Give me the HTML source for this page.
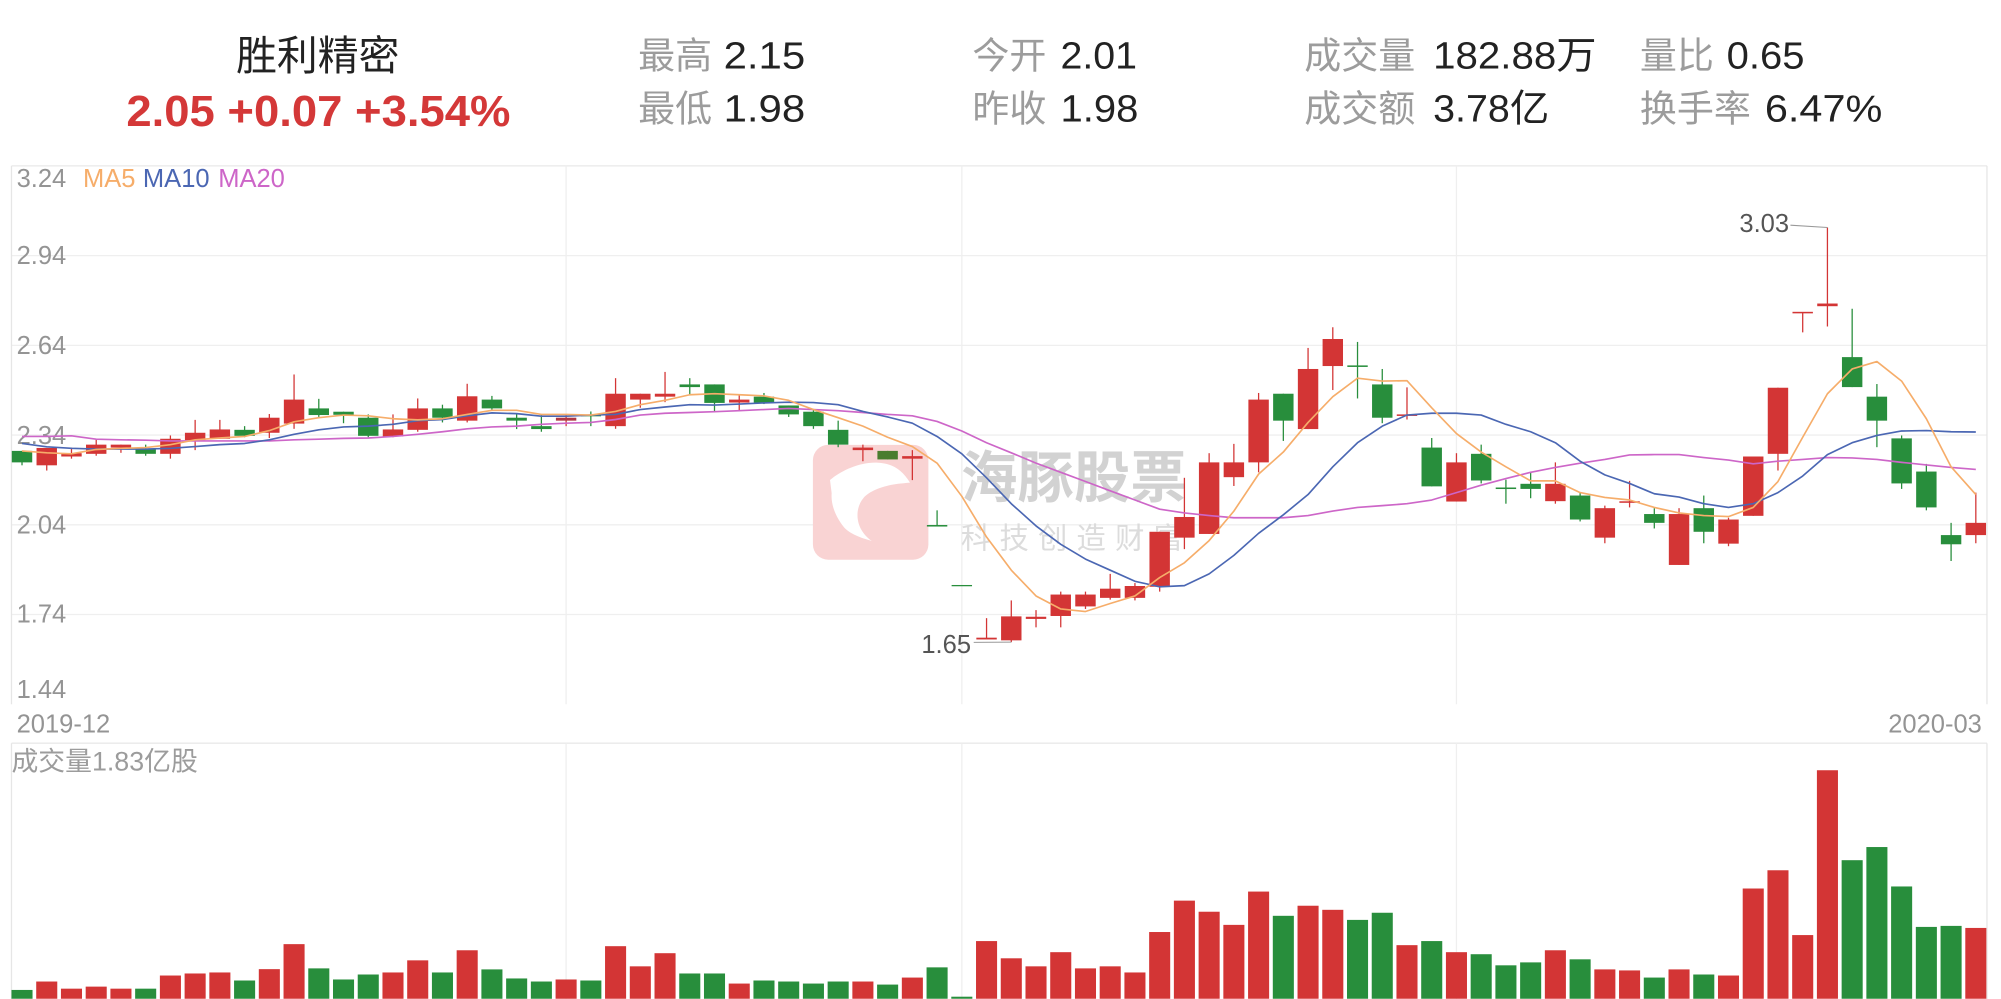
<!DOCTYPE html>
<html><head><meta charset="utf-8"><style>
html,body{margin:0;padding:0;background:#fff;}
svg{display:block;}
text{font-family:"Liberation Sans","Noto Sans CJK SC",sans-serif;}
</style></head><body>
<svg width="2001" height="999" viewBox="0 0 1568 783" preserveAspectRatio="none" xmlns="http://www.w3.org/2000/svg">
<rect x="0" y="0" width="1568" height="783" fill="#fff"/>
<text x="249" y="55" font-size="32" text-anchor="middle" fill="#222">胜利精密</text>
<text x="99" y="98.7" font-size="34" font-weight="bold" fill="#d43838" textLength="301" lengthAdjust="spacingAndGlyphs">2.05 +0.07 +3.54%</text>
<g font-size="29" fill="#9c9c9c">
<text x="500" y="53.5">最高</text><text x="500" y="95.3">最低</text>
<text x="762" y="53.5">今开</text><text x="762" y="95.3">昨收</text>
<text x="1022" y="53.5">成交量</text><text x="1022" y="95.3">成交额</text>
<text x="1285" y="53.5">量比</text><text x="1285" y="95.3">换手率</text>
</g>
<g font-size="30" fill="#222">
<text x="567" y="53.5" textLength="64" lengthAdjust="spacingAndGlyphs">2.15</text>
<text x="567" y="95.3" textLength="64" lengthAdjust="spacingAndGlyphs">1.98</text>
<text x="831" y="53.5" textLength="60" lengthAdjust="spacingAndGlyphs">2.01</text>
<text x="831" y="95.3" textLength="61" lengthAdjust="spacingAndGlyphs">1.98</text>
<text x="1123" y="53.5" textLength="128" lengthAdjust="spacingAndGlyphs">182.88万</text>
<text x="1123" y="95.3" textLength="91" lengthAdjust="spacingAndGlyphs">3.78亿</text>
<text x="1353" y="53.5" textLength="61" lengthAdjust="spacingAndGlyphs">0.65</text>
<text x="1383" y="95.3" textLength="92" lengthAdjust="spacingAndGlyphs">6.47%</text>
</g>
<g stroke="#efefef" stroke-width="1">
<line x1="9" y1="130" x2="1557" y2="130" stroke="#e9e9e9"/>
<line x1="9" y1="200.33" x2="1557" y2="200.33"/>
<line x1="9" y1="270.67" x2="1557" y2="270.67"/>
<line x1="9" y1="341" x2="1557" y2="341"/>
<line x1="9" y1="411.33" x2="1557" y2="411.33"/>
<line x1="9" y1="481.67" x2="1557" y2="481.67"/>
<line x1="9" y1="130" x2="9" y2="552" stroke="#e6e6e6"/>
<line x1="1557" y1="130" x2="1557" y2="552" stroke="#e6e6e6"/>
<line x1="443.6" y1="130" x2="443.6" y2="552"/>
<line x1="753.7" y1="130" x2="753.7" y2="552"/>
<line x1="1141.3" y1="130" x2="1141.3" y2="552"/>
<line x1="9" y1="582.5" x2="1557" y2="582.5" stroke="#e9e9e9"/>
<line x1="9" y1="582.5" x2="9" y2="783" stroke="#e6e6e6"/>
<line x1="1557" y1="582.5" x2="1557" y2="783" stroke="#e6e6e6"/>
<line x1="443.6" y1="582.5" x2="443.6" y2="783"/>
<line x1="753.7" y1="582.5" x2="753.7" y2="783"/>
<line x1="1141.3" y1="582.5" x2="1141.3" y2="783"/>
</g>
<g font-size="20" fill="#949494">
<text x="13" y="146.5">3.24</text>
<text x="13" y="207">2.94</text>
<text x="13" y="277.5">2.64</text>
<text x="13" y="348">2.34</text>
<text x="13" y="418">2.04</text>
<text x="13" y="488">1.74</text>
<text x="13" y="547">1.44</text>
<text x="13" y="574">2019-12</text>
<text x="1553" y="574" text-anchor="end">2020-03</text>
</g>
<text x="9" y="604" font-size="21" fill="#9c9c9c" textLength="146" lengthAdjust="spacingAndGlyphs">成交量1.83亿股</text>
<g font-size="20">
<text x="65" y="146.5" fill="#f6ad6a">MA5</text>
<text x="112" y="146.5" fill="#4b67b3">MA10</text>
<text x="171" y="146.5" fill="#cd66c8">MA20</text>
</g>
<rect x="637" y="348.7" width="90.5" height="90" rx="12" fill="#f9d3d3"/>
<path d="M650.4,376.2 C660,368 675,362 687,362.6 C698,363 706,367 713.1,378.3 C705,379 700,379.5 694.8,380.9 C686,383 679,387 676.5,390.5 C670,398 669,414 683.1,424 C672,421 664,417 660.9,412.7 C655,405 651,396 651.7,386.6 Z" fill="#fff"/>
<path d="M679,389 L691,386 L683,397 Z" fill="#f9d3d3"/>
<text x="753" y="390" font-size="44" font-weight="bold" fill="#d2d2d2" textLength="177" lengthAdjust="spacingAndGlyphs">海豚股票</text>
<text x="753" y="430" font-size="23" fill="#dcdcdc" textLength="174" lengthAdjust="spacing">科技创造财富</text>
<g stroke="#d33535" stroke-width="1">
<line x1="36.63" y1="351.1" x2="36.63" y2="368.8"/>
<line x1="56.01" y1="350.8" x2="56.01" y2="359.5"/>
<line x1="75.39" y1="344.7" x2="75.39" y2="357.2"/>
<line x1="94.77" y1="348.5" x2="94.77" y2="354.9"/>
<line x1="133.53" y1="341.3" x2="133.53" y2="359.5"/>
<line x1="152.91" y1="329.1" x2="152.91" y2="352.8"/>
<line x1="172.29" y1="329.1" x2="172.29" y2="343.9"/>
<line x1="211.05" y1="324.5" x2="211.05" y2="343.3"/>
<line x1="230.43" y1="293.5" x2="230.43" y2="336.1"/>
<line x1="307.95" y1="324.8" x2="307.95" y2="342.7"/>
<line x1="327.33" y1="312.3" x2="327.33" y2="338.4"/>
<line x1="366.09" y1="300.8" x2="366.09" y2="331.1"/>
<line x1="443.61" y1="325.3" x2="443.61" y2="334.0"/>
<line x1="482.37" y1="296.4" x2="482.37" y2="336.1"/>
<line x1="501.75" y1="308.6" x2="501.75" y2="319.6"/>
<line x1="521.13" y1="291.5" x2="521.13" y2="315.2"/>
<line x1="579.27" y1="309.7" x2="579.27" y2="321.9"/>
<line x1="676.17" y1="348.5" x2="676.17" y2="361.5"/>
<line x1="714.93" y1="352.8" x2="714.93" y2="376.3"/>
<line x1="773.07" y1="484.5" x2="773.07" y2="500.8"/>
<line x1="792.45" y1="470.6" x2="792.45" y2="503.3"/>
<line x1="811.83" y1="478.2" x2="811.83" y2="491.7"/>
<line x1="831.21" y1="463.7" x2="831.21" y2="491.7"/>
<line x1="850.59" y1="463.7" x2="850.59" y2="477.3"/>
<line x1="869.97" y1="449.8" x2="869.97" y2="470.0"/>
<line x1="889.35" y1="457.0" x2="889.35" y2="470.6"/>
<line x1="908.73" y1="416.8" x2="908.73" y2="463.7"/>
<line x1="928.11" y1="374.5" x2="928.11" y2="430.4"/>
<line x1="947.49" y1="355.2" x2="947.49" y2="418.5"/>
<line x1="966.87" y1="347.9" x2="966.87" y2="380.9"/>
<line x1="986.25" y1="308.0" x2="986.25" y2="370.2"/>
<line x1="1025.01" y1="272.7" x2="1025.01" y2="336.3"/>
<line x1="1044.39" y1="256.5" x2="1044.39" y2="305.7"/>
<line x1="1102.53" y1="303.6" x2="1102.53" y2="328.8"/>
<line x1="1141.29" y1="355.2" x2="1141.29" y2="393.1"/>
<line x1="1218.81" y1="362.4" x2="1218.81" y2="394.8"/>
<line x1="1257.57" y1="396.3" x2="1257.57" y2="425.8"/>
<line x1="1276.95" y1="376.9" x2="1276.95" y2="397.7"/>
<line x1="1315.71" y1="398.3" x2="1315.71" y2="442.8"/>
<line x1="1354.47" y1="405.8" x2="1354.47" y2="428.1"/>
<line x1="1373.85" y1="357.8" x2="1373.85" y2="404.3"/>
<line x1="1393.23" y1="303.9" x2="1393.23" y2="368.8"/>
<line x1="1412.61" y1="244.9" x2="1412.61" y2="260.5"/>
<line x1="1431.99" y1="178.3" x2="1431.99" y2="255.9"/>
<line x1="1548.27" y1="386.1" x2="1548.27" y2="425.8"/>
</g>
<g stroke="#288e3c" stroke-width="1">
<line x1="17.25" y1="353.4" x2="17.25" y2="364.7"/>
<line x1="114.15" y1="348.5" x2="114.15" y2="357.2"/>
<line x1="191.67" y1="334.0" x2="191.67" y2="342.7"/>
<line x1="249.81" y1="312.6" x2="249.81" y2="326.8"/>
<line x1="269.19" y1="322.7" x2="269.19" y2="331.7"/>
<line x1="288.57" y1="324.8" x2="288.57" y2="342.7"/>
<line x1="346.71" y1="317.2" x2="346.71" y2="331.1"/>
<line x1="385.47" y1="310.3" x2="385.47" y2="321.6"/>
<line x1="404.85" y1="324.2" x2="404.85" y2="336.3"/>
<line x1="424.23" y1="325.3" x2="424.23" y2="338.4"/>
<line x1="462.99" y1="322.5" x2="462.99" y2="334.0"/>
<line x1="540.51" y1="296.4" x2="540.51" y2="310.0"/>
<line x1="559.89" y1="301.3" x2="559.89" y2="322.5"/>
<line x1="598.65" y1="308.0" x2="598.65" y2="316.7"/>
<line x1="618.03" y1="317.8" x2="618.03" y2="326.8"/>
<line x1="637.41" y1="321.3" x2="637.41" y2="336.1"/>
<line x1="656.79" y1="329.7" x2="656.79" y2="350.5"/>
<line x1="695.55" y1="353.4" x2="695.55" y2="360.1"/>
<line x1="734.31" y1="400.0" x2="734.31" y2="412.5"/>
<line x1="1005.63" y1="308.6" x2="1005.63" y2="345.6"/>
<line x1="1063.77" y1="268.0" x2="1063.77" y2="312.3"/>
<line x1="1083.15" y1="289.2" x2="1083.15" y2="331.7"/>
<line x1="1121.91" y1="343.3" x2="1121.91" y2="381.2"/>
<line x1="1160.67" y1="348.5" x2="1160.67" y2="378.9"/>
<line x1="1180.05" y1="376.0" x2="1180.05" y2="394.8"/>
<line x1="1199.43" y1="369.6" x2="1199.43" y2="390.5"/>
<line x1="1238.19" y1="386.1" x2="1238.19" y2="408.7"/>
<line x1="1296.33" y1="398.3" x2="1296.33" y2="414.2"/>
<line x1="1335.09" y1="388.4" x2="1335.09" y2="425.8"/>
<line x1="1451.37" y1="242.0" x2="1451.37" y2="303.4"/>
<line x1="1470.75" y1="301.0" x2="1470.75" y2="350.5"/>
<line x1="1490.13" y1="341.3" x2="1490.13" y2="383.2"/>
<line x1="1509.51" y1="363.6" x2="1509.51" y2="400.0"/>
<line x1="1528.89" y1="409.8" x2="1528.89" y2="439.7"/>
</g>
<g fill="#d33535">
<rect x="28.63" y="351.1" width="16" height="13.6"/>
<rect x="48.01" y="355.2" width="16" height="2.6"/>
<rect x="67.39" y="348.5" width="16" height="7.2"/>
<rect x="86.77" y="348.5" width="16" height="2.3"/>
<rect x="125.53" y="343.9" width="16" height="11.8"/>
<rect x="144.91" y="339.2" width="16" height="5.8"/>
<rect x="164.29" y="336.6" width="16" height="7.3"/>
<rect x="203.05" y="327.4" width="16" height="11.8"/>
<rect x="222.43" y="313.2" width="16" height="18.8"/>
<rect x="299.95" y="336.6" width="16" height="5.5"/>
<rect x="319.33" y="320.1" width="16" height="16.8"/>
<rect x="358.09" y="310.6" width="16" height="19.1"/>
<rect x="435.61" y="327.4" width="16" height="2.3" fill="#b03844"/>
<rect x="474.37" y="308.6" width="16" height="25.4"/>
<rect x="493.75" y="308.6" width="16" height="4.6"/>
<rect x="513.13" y="308.6" width="16" height="2.3"/>
<rect x="571.27" y="313.2" width="16" height="2.3"/>
<rect x="668.17" y="350.8" width="16" height="2.0"/>
<rect x="706.93" y="357.5" width="16" height="2.0"/>
<rect x="765.07" y="499.8" width="16" height="1.4"/>
<rect x="784.45" y="483.1" width="16" height="18.8"/>
<rect x="803.83" y="483.4" width="16" height="1.7"/>
<rect x="823.21" y="466.0" width="16" height="16.8"/>
<rect x="842.59" y="466.0" width="16" height="9.3"/>
<rect x="861.97" y="461.4" width="16" height="7.2"/>
<rect x="881.35" y="459.3" width="16" height="9.3"/>
<rect x="900.73" y="416.8" width="16" height="43.1"/>
<rect x="920.11" y="405.2" width="16" height="16.2"/>
<rect x="939.49" y="362.4" width="16" height="56.1"/>
<rect x="958.87" y="362.4" width="16" height="11.6"/>
<rect x="978.25" y="313.2" width="16" height="49.2"/>
<rect x="1017.01" y="289.2" width="16" height="47.1"/>
<rect x="1036.39" y="265.7" width="16" height="21.2"/>
<rect x="1094.53" y="324.8" width="16" height="1.2"/>
<rect x="1133.29" y="362.4" width="16" height="30.7"/>
<rect x="1210.81" y="379.2" width="16" height="13.6"/>
<rect x="1249.57" y="398.3" width="16" height="23.1"/>
<rect x="1268.95" y="392.9" width="16" height="1.2"/>
<rect x="1307.71" y="402.9" width="16" height="39.9"/>
<rect x="1346.47" y="407.2" width="16" height="18.9"/>
<rect x="1365.85" y="357.8" width="16" height="46.5"/>
<rect x="1385.23" y="303.9" width="16" height="51.8"/>
<rect x="1404.61" y="244.4" width="16" height="1.2"/>
<rect x="1423.99" y="237.9" width="16" height="2.1"/>
<rect x="1540.27" y="409.8" width="16" height="9.6"/>
</g>
<g fill="#288e3c">
<rect x="9.25" y="353.4" width="16" height="9.0"/>
<rect x="106.15" y="351.7" width="16" height="4.0"/>
<rect x="183.67" y="336.9" width="16" height="4.7"/>
<rect x="241.81" y="320.1" width="16" height="5.2"/>
<rect x="261.19" y="322.7" width="16" height="2.4"/>
<rect x="280.57" y="327.4" width="16" height="14.2"/>
<rect x="338.71" y="320.1" width="16" height="7.3"/>
<rect x="377.47" y="313.2" width="16" height="6.9"/>
<rect x="396.85" y="327.4" width="16" height="2.3"/>
<rect x="416.23" y="334.0" width="16" height="2.3"/>
<rect x="454.99" y="325.1" width="16" height="1.2"/>
<rect x="532.51" y="301.3" width="16" height="2.1"/>
<rect x="551.89" y="301.3" width="16" height="14.5"/>
<rect x="590.65" y="310.9" width="16" height="4.6"/>
<rect x="610.03" y="317.8" width="16" height="7.0"/>
<rect x="629.41" y="322.7" width="16" height="11.3"/>
<rect x="648.79" y="336.9" width="16" height="11.6"/>
<rect x="687.55" y="353.4" width="16" height="6.7" fill="#4a7d2e"/>
<rect x="726.31" y="411.5" width="16" height="1.2"/>
<rect x="745.69" y="458.5" width="16" height="1.0"/>
<rect x="997.63" y="308.6" width="16" height="21.1"/>
<rect x="1055.77" y="286.4" width="16" height="1.2"/>
<rect x="1075.15" y="301.3" width="16" height="26.1"/>
<rect x="1113.91" y="350.8" width="16" height="30.4"/>
<rect x="1152.67" y="355.7" width="16" height="20.9"/>
<rect x="1172.05" y="382.1" width="16" height="1.2"/>
<rect x="1191.43" y="379.2" width="16" height="4.0"/>
<rect x="1230.19" y="388.4" width="16" height="18.8"/>
<rect x="1288.33" y="402.9" width="16" height="6.9"/>
<rect x="1327.09" y="398.3" width="16" height="18.5"/>
<rect x="1443.37" y="279.9" width="16" height="23.5"/>
<rect x="1462.75" y="310.9" width="16" height="18.8"/>
<rect x="1482.13" y="343.6" width="16" height="35.3"/>
<rect x="1501.51" y="369.6" width="16" height="28.1"/>
<rect x="1520.89" y="419.4" width="16" height="7.2"/>
</g>
<polyline fill="none" stroke="#cd66c8" stroke-width="1.3" stroke-linejoin="round" points="17.25,342.1 36.63,342.1 56.01,341.6 75.39,344.2 94.77,344.7 114.15,345.0 133.53,345.6 152.91,345.6 172.29,345.6 191.67,345.6 211.05,345.6 230.43,344.7 249.81,344.2 269.19,343.6 288.57,343.3 307.95,342.1 327.33,340.4 346.71,338.4 366.09,336.1 385.47,334.6 404.85,334.0 424.23,332.6 443.61,331.7 462.99,331.1 482.37,328.8 501.75,325.3 521.13,323.9 540.51,323.3 559.89,322.7 579.27,321.9 598.65,321.0 618.03,320.1 637.41,321.0 656.79,321.9 676.17,323.3 695.55,324.8 714.93,325.9 734.31,330.3 753.69,337.8 773.07,347.0 792.45,354.9 811.83,363.0 831.21,370.2 850.59,377.4 869.97,384.7 889.35,391.9 908.73,399.1 928.11,402.0 947.49,404.1 966.87,405.8 986.25,405.8 1005.63,405.8 1025.01,404.1 1044.39,400.6 1063.77,397.7 1083.15,396.3 1102.53,394.8 1121.91,391.9 1141.29,386.1 1160.67,380.3 1180.05,375.1 1199.43,370.2 1218.81,366.4 1238.19,363.0 1257.57,360.1 1276.95,356.6 1296.33,356.3 1315.71,356.3 1335.09,358.6 1354.47,360.6 1373.85,363.5 1393.23,361.5 1412.61,360.1 1431.99,358.6 1451.37,358.9 1470.75,360.1 1490.13,362.4 1509.51,364.4 1528.89,366.4 1548.27,367.9"/>
<polyline fill="none" stroke="#4b67b3" stroke-width="1.3" stroke-linejoin="round" points="17.25,347.6 36.63,350.2 56.01,351.4 75.39,352.0 94.77,352.0 114.15,352.0 133.53,351.4 152.91,350.0 172.29,348.5 191.67,347.6 211.05,344.7 230.43,340.4 249.81,336.9 269.19,334.6 288.57,334.0 307.95,332.6 327.33,329.7 346.71,328.8 366.09,325.9 385.47,323.6 404.85,324.2 424.23,326.2 443.61,326.2 462.99,325.3 482.37,324.8 501.75,321.0 521.13,319.0 540.51,317.2 559.89,317.5 579.27,316.7 598.65,315.8 618.03,315.2 637.41,315.5 656.79,317.2 676.17,322.5 695.55,326.8 714.93,331.7 734.31,342.1 753.69,355.7 773.07,374.5 792.45,394.8 811.83,412.2 831.21,426.6 850.59,438.2 869.97,446.9 889.35,455.6 908.73,459.9 928.11,459.0 947.49,449.8 966.87,435.3 986.25,418.0 1005.63,403.5 1025.01,387.6 1044.39,365.9 1063.77,347.0 1083.15,334.0 1102.53,325.3 1121.91,323.9 1141.29,323.9 1160.67,325.3 1180.05,332.6 1199.43,338.4 1218.81,347.0 1238.19,361.5 1257.57,372.2 1276.95,378.9 1296.33,387.0 1315.71,389.6 1335.09,394.8 1354.47,397.7 1373.85,394.8 1393.23,386.1 1412.61,373.1 1431.99,356.3 1451.37,347.0 1470.75,341.3 1490.13,337.8 1509.51,337.5 1528.89,338.4 1548.27,338.6"/>
<polyline fill="none" stroke="#f6ad6a" stroke-width="1.3" stroke-linejoin="round" points="17.25,353.4 36.63,354.9 56.01,355.7 75.39,352.3 94.77,351.4 114.15,350.8 133.53,348.5 152.91,344.7 172.29,343.3 191.67,342.1 211.05,337.5 230.43,330.6 249.81,327.4 269.19,325.3 288.57,325.9 307.95,328.2 327.33,329.1 346.71,328.2 366.09,324.8 385.47,321.6 404.85,321.6 424.23,324.8 443.61,324.8 462.99,325.3 482.37,322.5 501.75,317.2 521.13,313.8 540.51,309.4 559.89,308.6 579.27,309.4 598.65,310.3 618.03,313.8 637.41,321.0 656.79,327.4 676.17,334.0 695.55,342.7 714.93,350.0 734.31,363.0 753.69,389.0 773.07,420.9 792.45,446.9 811.83,467.1 831.21,477.3 850.59,479.3 869.97,473.0 889.35,467.1 908.73,452.7 928.11,441.1 947.49,423.7 966.87,400.6 986.25,371.6 1005.63,354.3 1025.01,331.1 1044.39,310.9 1063.77,296.4 1083.15,298.7 1102.53,298.4 1121.91,319.6 1141.29,339.8 1160.67,354.3 1180.05,365.9 1199.43,376.9 1218.81,376.9 1238.19,386.1 1257.57,389.9 1276.95,391.9 1296.33,397.7 1315.71,402.0 1335.09,404.1 1354.47,404.9 1373.85,397.7 1393.23,377.4 1412.61,342.7 1431.99,308.6 1451.37,289.2 1470.75,283.4 1490.13,298.7 1509.51,328.2 1528.89,365.9 1548.27,387.6"/>
<line x1="1403" y1="176.5" x2="1432" y2="178.3" stroke="#999" stroke-width="0.8"/>
<text x="1363" y="182" font-size="20" fill="#555">3.03</text>
<line x1="763" y1="503.5" x2="792.5" y2="503.3" stroke="#999" stroke-width="0.8"/>
<text x="722" y="512" font-size="20" fill="#555">1.65</text>
<g fill="#d33535">
<rect x="28.38" y="769.3" width="16.5" height="13.5"/>
<rect x="47.76" y="774.9" width="16.5" height="7.9"/>
<rect x="67.14" y="773.3" width="16.5" height="9.5"/>
<rect x="86.52" y="774.9" width="16.5" height="7.9"/>
<rect x="125.28" y="764.6" width="16.5" height="18.2"/>
<rect x="144.66" y="763.0" width="16.5" height="19.8"/>
<rect x="164.04" y="762.2" width="16.5" height="20.6"/>
<rect x="202.8" y="759.6" width="16.5" height="23.2"/>
<rect x="222.18" y="740.0" width="16.5" height="42.8"/>
<rect x="299.7" y="762.2" width="16.5" height="20.6"/>
<rect x="319.08" y="752.7" width="16.5" height="30.1"/>
<rect x="357.84" y="744.8" width="16.5" height="38.0"/>
<rect x="435.36" y="767.7" width="16.5" height="15.1"/>
<rect x="474.12" y="741.6" width="16.5" height="41.2"/>
<rect x="493.5" y="757.4" width="16.5" height="25.4"/>
<rect x="512.88" y="747.1" width="16.5" height="35.7"/>
<rect x="571.02" y="770.9" width="16.5" height="11.9"/>
<rect x="667.92" y="769.3" width="16.5" height="13.5"/>
<rect x="706.68" y="766.2" width="16.5" height="16.6"/>
<rect x="764.82" y="737.6" width="16.5" height="45.2"/>
<rect x="784.2" y="751.1" width="16.5" height="31.7"/>
<rect x="803.58" y="757.4" width="16.5" height="25.4"/>
<rect x="822.96" y="746.3" width="16.5" height="36.5"/>
<rect x="842.34" y="759.0" width="16.5" height="23.8"/>
<rect x="861.72" y="757.4" width="16.5" height="25.4"/>
<rect x="881.1" y="762.2" width="16.5" height="20.6"/>
<rect x="900.48" y="730.5" width="16.5" height="52.3"/>
<rect x="919.86" y="705.9" width="16.5" height="76.9"/>
<rect x="939.24" y="714.6" width="16.5" height="68.2"/>
<rect x="958.62" y="724.9" width="16.5" height="57.9"/>
<rect x="978.0" y="698.8" width="16.5" height="84.0"/>
<rect x="1016.76" y="709.9" width="16.5" height="72.9"/>
<rect x="1036.14" y="713.1" width="16.5" height="69.7"/>
<rect x="1094.28" y="740.8" width="16.5" height="42.0"/>
<rect x="1133.04" y="746.3" width="16.5" height="36.5"/>
<rect x="1210.56" y="744.8" width="16.5" height="38.0"/>
<rect x="1249.32" y="759.8" width="16.5" height="23.0"/>
<rect x="1268.7" y="760.6" width="16.5" height="22.2"/>
<rect x="1307.46" y="759.8" width="16.5" height="23.0"/>
<rect x="1346.22" y="764.6" width="16.5" height="18.2"/>
<rect x="1365.6" y="696.4" width="16.5" height="86.4"/>
<rect x="1384.98" y="682.1" width="16.5" height="100.7"/>
<rect x="1404.36" y="732.9" width="16.5" height="49.9"/>
<rect x="1423.74" y="603.7" width="16.5" height="179.1"/>
<rect x="1540.02" y="727.3" width="16.5" height="55.5"/>
</g>
<g fill="#288e3c">
<rect x="9.0" y="775.9" width="16.5" height="6.9"/>
<rect x="105.9" y="774.9" width="16.5" height="7.9"/>
<rect x="183.42" y="768.5" width="16.5" height="14.3"/>
<rect x="241.56" y="759.0" width="16.5" height="23.8"/>
<rect x="260.94" y="767.7" width="16.5" height="15.1"/>
<rect x="280.32" y="763.8" width="16.5" height="19.0"/>
<rect x="338.46" y="762.2" width="16.5" height="20.6"/>
<rect x="377.22" y="759.8" width="16.5" height="23.0"/>
<rect x="396.6" y="766.9" width="16.5" height="15.9"/>
<rect x="415.98" y="769.3" width="16.5" height="13.5"/>
<rect x="454.74" y="768.5" width="16.5" height="14.3"/>
<rect x="532.26" y="763.0" width="16.5" height="19.8"/>
<rect x="551.64" y="763.0" width="16.5" height="19.8"/>
<rect x="590.4" y="768.5" width="16.5" height="14.3"/>
<rect x="609.78" y="769.3" width="16.5" height="13.5"/>
<rect x="629.16" y="770.9" width="16.5" height="11.9"/>
<rect x="648.54" y="769.3" width="16.5" height="13.5"/>
<rect x="687.3" y="771.7" width="16.5" height="11.1"/>
<rect x="726.06" y="758.2" width="16.5" height="24.6"/>
<rect x="745.44" y="781.2" width="16.5" height="1.6"/>
<rect x="997.38" y="717.8" width="16.5" height="65.0"/>
<rect x="1055.52" y="721.0" width="16.5" height="61.8"/>
<rect x="1074.9" y="715.4" width="16.5" height="67.4"/>
<rect x="1113.66" y="737.6" width="16.5" height="45.2"/>
<rect x="1152.42" y="747.9" width="16.5" height="34.9"/>
<rect x="1171.8" y="756.6" width="16.5" height="26.2"/>
<rect x="1191.18" y="754.3" width="16.5" height="28.5"/>
<rect x="1229.94" y="751.9" width="16.5" height="30.9"/>
<rect x="1288.08" y="766.2" width="16.5" height="16.6"/>
<rect x="1326.84" y="763.8" width="16.5" height="19.0"/>
<rect x="1443.12" y="674.2" width="16.5" height="108.6"/>
<rect x="1462.5" y="663.9" width="16.5" height="118.9"/>
<rect x="1481.88" y="694.8" width="16.5" height="88.0"/>
<rect x="1501.26" y="726.5" width="16.5" height="56.3"/>
<rect x="1520.64" y="725.7" width="16.5" height="57.1"/>
</g>
</svg>
</body></html>
